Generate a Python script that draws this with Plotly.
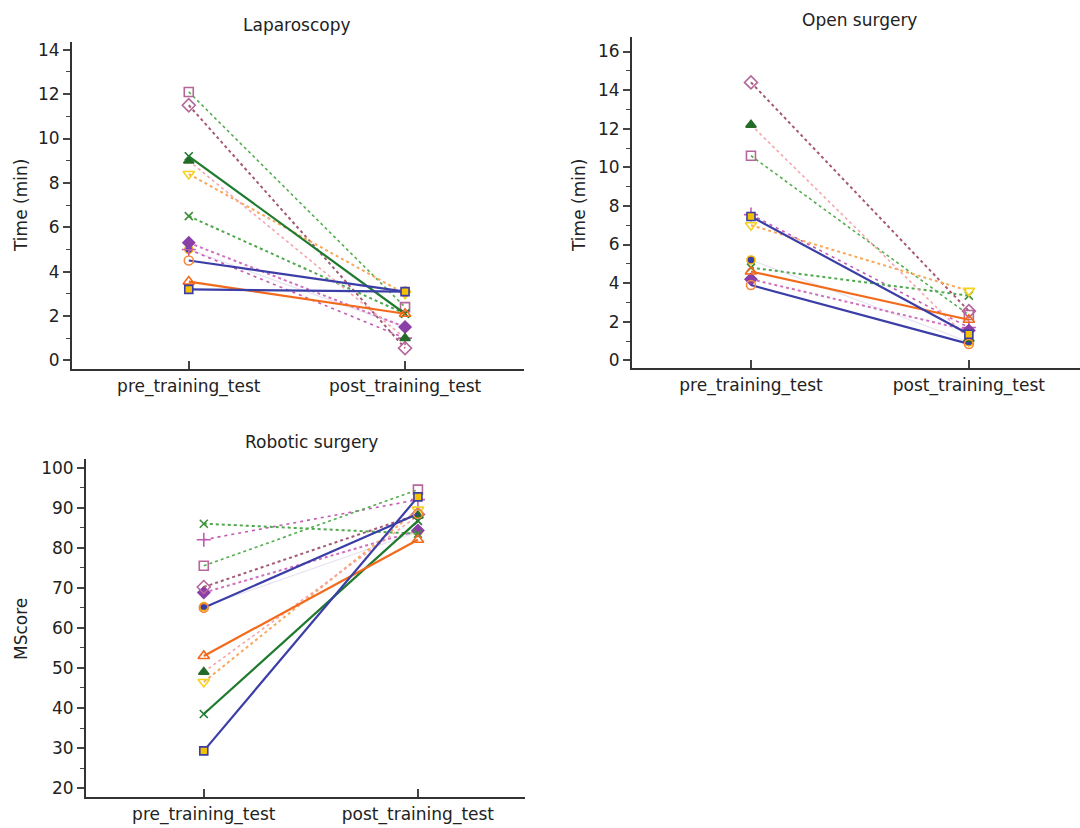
import plotly.graph_objects as go

categories = ["pre_training_test", "post_training_test"]

# Each subject: values [pre, post] per panel
lap = {
    "S1": [3.2, 3.1], "S2": [3.55, 2.1], "S3": [4.5, 3.1], "S4": [5.0, 1.5],
    "S5": [9.2, 2.1], "S6": [9.0, 1.0], "S7": [8.4, 3.0], "S8": [12.1, 2.4],
    "S9": [11.5, 0.55], "S10": [6.5, 2.1], "S11": [5.3, 1.5], "S12": [5.0, 1.0],
}
open_s = {
    "S1": [7.45, 1.35], "S2": [4.6, 2.1], "S3": [3.9, 0.85], "S4": [5.2, 0.95],
    "S5": [None, None], "S6": [12.2, 1.1], "S7": [7.0, 3.6], "S8": [10.6, 2.35],
    "S9": [14.4, 2.55], "S10": [4.8, 3.35], "S11": [4.2, 1.55], "S12": [7.55, 1.7],
}
robotic = {
    "S1": [29.3, 92.7], "S2": [53.0, 82.0], "S3": [65.0, 88.5], "S4": [65.3, 84.0],
    "S5": [38.5, 86.7], "S6": [49.0, 88.0], "S7": [46.5, 89.5], "S8": [75.5, 94.5],
    "S9": [70.2, 88.3], "S10": [86.0, 83.5], "S11": [68.8, 84.3], "S12": [82.0, 92.0],
}

styles = {
    "S1": dict(lc="#3b3ea6", dash="solid", lw=2.2, sym="square", mfill="#f2c200", mline="#3b3ea6", ms=8),
    "S2": dict(lc="#f26a1b", dash="solid", lw=2.2, sym="triangle-up", mfill="rgba(255,255,255,0)", mline="#f26a1b", ms=10),
    "S3": dict(lc="#3b3ea6", dash="solid", lw=2.2, sym="circle", mfill="rgba(255,255,255,0)", mline="#f58a3c", ms=9),
    "S4": dict(lc="#e6e2f2", dash="solid", lw=1.2, sym="circle", mfill="#3b3ea6", mline="#f2b400", ms=8),
    "S5": dict(lc="#1f7a2e", dash="solid", lw=2.2, sym="x-thin", mfill="#1f7a2e", mline="#1f7a2e", ms=8),
    "S6": dict(lc="#f5a5ab", dash="dot", lw=1.6, sym="triangle-up", mfill="#1f6e28", mline="#2a6a2a", ms=9),
    "S7": dict(lc="#f7a85c", dash="dot", lw=2.0, sym="triangle-down", mfill="rgba(255,255,255,0)", mline="#f5d21e", ms=10),
    "S8": dict(lc="#55ad50", dash="dot", lw=1.6, sym="square", mfill="rgba(255,255,255,0)", mline="#b5679b", ms=9),
    "S9": dict(lc="#a35a72", dash="dot", lw=2.0, sym="diamond", mfill="rgba(255,255,255,0)", mline="#b5679b", ms=10),
    "S10": dict(lc="#4fa84c", dash="dot", lw=2.0, sym="x-thin", mfill="#3d8f3a", mline="#3d8f3a", ms=8),
    "S11": dict(lc="#d070c0", dash="dot", lw=2.0, sym="diamond", mfill="#8a3fa8", mline="#8a3fa8", ms=9),
    "S12": dict(lc="#c25ab5", dash="3px,4px", lw=1.6, sym="cross-thin", mfill="#c25ab5", mline="#c25ab5", ms=10),
}

panels = [(lap, "x", "y"), (open_s, "x2", "y2"), (robotic, "x3", "y3")]
order = ["S4", "S12", "S11", "S10", "S9", "S8", "S7", "S6", "S5", "S3", "S2", "S1"]

fig = go.Figure()
for data, xa, ya in panels:
    for sid in order:
        st = styles[sid]
        vals = data[sid]
        if vals[0] is None:
            continue
        fig.add_trace(go.Scatter(
            x=categories, y=vals, xaxis=xa, yaxis=ya, mode="lines+markers",
            line=dict(color=st["lc"], dash=st["dash"], width=st["lw"]),
            marker=dict(symbol=st["sym"], size=st["ms"], color=st["mfill"],
                        line=dict(color=st["mline"], width=1.6)),
            showlegend=False, hoverinfo="skip", cliponaxis=False,
        ))

font = "DejaVu Sans, sans-serif"
tc = "#222222"

def xax(domain, rng, anchor):
    return dict(domain=domain, anchor=anchor, range=rng, type="category",
                showline=True, linecolor="#333", linewidth=2, ticks="inside",
                ticklen=8, tickwidth=1.5, tickcolor="#444", showgrid=False, zeroline=False,
                tickfont=dict(family=font, size=17, color=tc))

def yax(domain, rng, anchor, dtick, minor):
    return dict(domain=domain, anchor=anchor, range=rng, showline=True, linecolor="#333",
                linewidth=2, ticks="outside", ticklen=7, tickwidth=1.5, tickcolor="#444",
                dtick=dtick, tick0=0, showgrid=False, zeroline=False,
                minor=dict(dtick=minor, ticklen=4, tickcolor="#444", ticks="outside", tickwidth=1),
                tickfont=dict(family=font, size=17, color=tc))

W, H = 1080, 828
def px(v): return v / W
def py(v): return 1 - v / H

fig.update_layout(
    width=W, height=H, margin=dict(l=0, r=0, t=0, b=0),
    paper_bgcolor="white", plot_bgcolor="white",
    xaxis=xax([px(72), px(524)], [-0.54, 1.55], "y"),
    yaxis=yax([py(369), py(40)], [-0.4, 14.36], "x", 2, 1),
    xaxis2=xax([px(632), 1.0], [-0.546, 1.51], "y2"),
    yaxis2=yax([py(368), py(35)], [-0.41, 16.76], "x2", 2, 1),
    xaxis3=xax([px(86), px(525)], [-0.55, 1.5], "y3"),
    yaxis3=yax([py(799), py(459)], [17.76, 102.2], "x3", 10, 5),
)

annots = [
    ("Laparoscopy", 297, 23, 0), ("Open surgery", 859, 18, 0), ("Robotic surgery", 312, 442, 0),
    ("Time (min)", 21, 205, -90), ("Time (min)", 579, 205, -90), ("MScore", 21, 630, -90),
]
for txt, x, y, ang in annots:
    fig.add_annotation(text=txt, x=px(x), y=py(y), xref="paper", yref="paper",
                       showarrow=False, textangle=ang, xanchor="center", yanchor="middle",
                       font=dict(family=font, size=17, color=tc))

fig.write_html("out.html", config={"displayModeBar": False},
               post_script="document.body.style.margin='0px';")
